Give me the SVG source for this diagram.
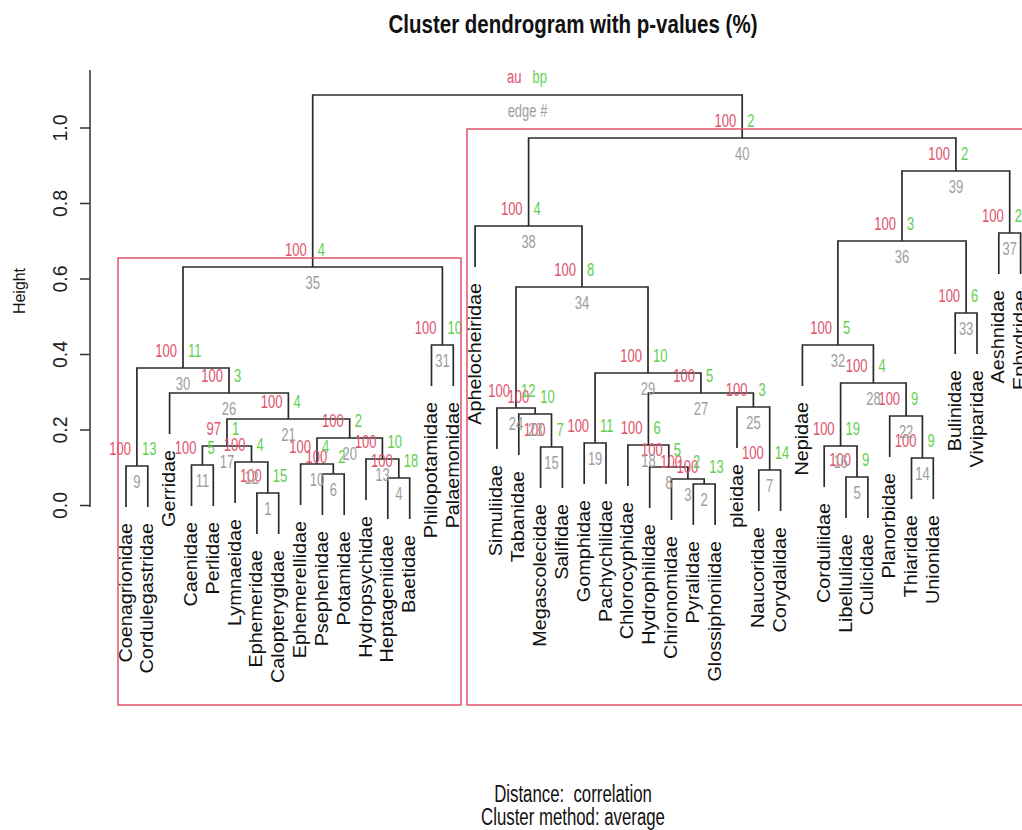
<svg xmlns="http://www.w3.org/2000/svg" width="1022" height="830" viewBox="0 0 1022 830">
<style>
text{font-family:"Liberation Sans",Arial,sans-serif}
.ln{fill:none;stroke:#2b2b2b;stroke-width:1.7}
.rc{fill:none;stroke:#DF536B;stroke-width:1.5}
.ax{fill:none;stroke:#333;stroke-width:1.5}
.au{fill:#DF536B;font-size:13px;text-anchor:end}
.bp{fill:#61D04F;font-size:13px;text-anchor:start}
.ed{fill:#9E9E9E;font-size:13px;text-anchor:middle}
.lf{fill:#111;font-size:17.5px;text-anchor:end}
.tk{fill:#222;font-size:19.5px;text-anchor:middle}
.yl{fill:#111;font-size:17px;text-anchor:middle}
.ttl{fill:#111;font-size:20.5px;font-weight:bold;text-anchor:middle}
.sub{fill:#111;font-size:16.8px;text-anchor:middle}
</style>
<rect width="1022" height="830" fill="#fff"/>
<text class="ttl" transform="translate(573,33) scale(1,1.3)">Cluster dendrogram with p-values (%)</text>
<g id="axis">
<path class="ax" d="M90 70V507M80 128H90M80 203.5H90M80 279H90M80 354.5H90M80 430H90M80 505.5H90"/>
<text class="tk" transform="translate(67,128) rotate(-90)">1.0</text>
<text class="tk" transform="translate(67,203.5) rotate(-90)">0.8</text>
<text class="tk" transform="translate(67,279) rotate(-90)">0.6</text>
<text class="tk" transform="translate(67,354.5) rotate(-90)">0.4</text>
<text class="tk" transform="translate(67,430) rotate(-90)">0.2</text>
<text class="tk" transform="translate(67,505.5) rotate(-90)">0.0</text>
<text class="yl" x="0" y="0" textLength="46" lengthAdjust="spacingAndGlyphs" transform="translate(25,291) rotate(-90)">Height</text>
</g>
<g id="connectors">
<path class="ln" d="M256.9 534V493H278.7V534"/>
<path class="ln" d="M693.3 525V484H715.1V525"/>
<path class="ln" d="M671.5 520V479H704.2V484"/>
<path class="ln" d="M387.8 519V478H409.7V519"/>
<path class="ln" d="M846 518V477H867.9V518"/>
<path class="ln" d="M322.4 515V474H344.2V515"/>
<path class="ln" d="M758.8 511V470H780.6V511"/>
<path class="ln" d="M649.7 508V467H687.9V479"/>
<path class="ln" d="M126 507V466H147.8V507"/>
<path class="ln" d="M300.6 505V464H333.3V474"/>
<path class="ln" d="M191.5 506V465H213.3V506"/>
<path class="ln" d="M235.1 503V462H267.8V493"/>
<path class="ln" d="M366 500V459H398.8V478"/>
<path class="ln" d="M911.5 499V458H933.3V499"/>
<path class="ln" d="M540.6 488V447H562.4V488"/>
<path class="ln" d="M824.2 487V446H857V477"/>
<path class="ln" d="M202.4 465V446H251.5V462"/>
<path class="ln" d="M627.9 486V445H668.8V467"/>
<path class="ln" d="M584.2 484V443H606V484"/>
<path class="ln" d="M317 464V438H382.4V459"/>
<path class="ln" d="M227 446V419H349.7V438"/>
<path class="ln" d="M889.7 457V416H922.4V458"/>
<path class="ln" d="M518.8 455V414H551.5V447"/>
<path class="ln" d="M496.9 449V408H535.2V414"/>
<path class="ln" d="M737 448V407H769.7V470"/>
<path class="ln" d="M169.6 434V393H288.4V419"/>
<path class="ln" d="M648.4 445V393H753.4V407"/>
<path class="ln" d="M840.6 446V383H906.1V416"/>
<path class="ln" d="M595.1 443V373H700.9V393"/>
<path class="ln" d="M136.9 466V368H229V393"/>
<path class="ln" d="M431.5 386V345H453.3V386"/>
<path class="ln" d="M802.4 386V345H873.4V383"/>
<path class="ln" d="M955.2 354V313H977V354"/>
<path class="ln" d="M516 408V287H648V373"/>
<path class="ln" d="M183 368V267H442.4V345"/>
<path class="ln" d="M837.9 345V241H966.1V313"/>
<path class="ln" d="M998.8 274V233H1020.6V274"/>
<path class="ln" d="M475.1 267V226H582V287"/>
<path class="ln" d="M902 241V171H1009.7V233"/>
<path class="ln" d="M528.6 226V138H955.9V171"/>
<path class="ln" d="M312.7 267V95H742.2V138"/>
</g>
<g id="legend">
<text class="au" transform="translate(521.5,83) scale(1,1.38)">au</text>
<text class="bp" transform="translate(532.5,83) scale(1,1.38)">bp</text>
<text class="ed" transform="translate(527.5,116.5) scale(1,1.38)">edge #</text>
</g>
<g id="leaves">
<text class="lf" transform="translate(131.5,523) rotate(-90) scale(1.13,1)">Coenagrionidae</text>
<text class="lf" transform="translate(153.3,523) rotate(-90) scale(1.13,1)">Cordulegastridae</text>
<text class="lf" transform="translate(175.1,450) rotate(-90) scale(1.13,1)">Gerridae</text>
<text class="lf" transform="translate(197,522) rotate(-90) scale(1.13,1)">Caenidae</text>
<text class="lf" transform="translate(218.8,522) rotate(-90) scale(1.13,1)">Perlidae</text>
<text class="lf" transform="translate(240.6,519) rotate(-90) scale(1.13,1)">Lymnaeidae</text>
<text class="lf" transform="translate(262.4,550) rotate(-90) scale(1.13,1)">Ephemeridae</text>
<text class="lf" transform="translate(284.2,550) rotate(-90) scale(1.13,1)">Calopterygidae</text>
<text class="lf" transform="translate(306.1,521) rotate(-90) scale(1.13,1)">Ephemerellidae</text>
<text class="lf" transform="translate(327.9,531) rotate(-90) scale(1.13,1)">Psephenidae</text>
<text class="lf" transform="translate(349.7,531) rotate(-90) scale(1.13,1)">Potamidae</text>
<text class="lf" transform="translate(371.5,516) rotate(-90) scale(1.13,1)">Hydropsychidae</text>
<text class="lf" transform="translate(393.3,535) rotate(-90) scale(1.13,1)">Heptageniidae</text>
<text class="lf" transform="translate(415.2,535) rotate(-90) scale(1.13,1)">Baetidae</text>
<text class="lf" transform="translate(437,402) rotate(-90) scale(1.13,1)">Philopotamidae</text>
<text class="lf" transform="translate(458.8,402) rotate(-90) scale(1.13,1)">Palaemonidae</text>
<text class="lf" transform="translate(480.6,283) rotate(-90) scale(1.13,1)">Aphelocheiridae</text>
<text class="lf" transform="translate(502.4,465) rotate(-90) scale(1.13,1)">Simuliidae</text>
<text class="lf" transform="translate(524.3,471) rotate(-90) scale(1.13,1)">Tabanidae</text>
<text class="lf" transform="translate(546.1,504) rotate(-90) scale(1.13,1)">Megascolecidae</text>
<text class="lf" transform="translate(567.9,504) rotate(-90) scale(1.13,1)">Salifidae</text>
<text class="lf" transform="translate(589.7,500) rotate(-90) scale(1.13,1)">Gomphidae</text>
<text class="lf" transform="translate(611.5,500) rotate(-90) scale(1.13,1)">Pachychilidae</text>
<text class="lf" transform="translate(633.4,502) rotate(-90) scale(1.13,1)">Chlorocyphidae</text>
<text class="lf" transform="translate(655.2,524) rotate(-90) scale(1.13,1)">Hydrophilidae</text>
<text class="lf" transform="translate(677,536) rotate(-90) scale(1.13,1)">Chironomidae</text>
<text class="lf" transform="translate(698.8,541) rotate(-90) scale(1.13,1)">Pyralidae</text>
<text class="lf" transform="translate(720.6,541) rotate(-90) scale(1.13,1)">Glossiphoniidae</text>
<text class="lf" transform="translate(742.5,464) rotate(-90) scale(1.13,1)">pleidae</text>
<text class="lf" transform="translate(764.3,527) rotate(-90) scale(1.13,1)">Naucoridae</text>
<text class="lf" transform="translate(786.1,527) rotate(-90) scale(1.13,1)">Corydalidae</text>
<text class="lf" transform="translate(807.9,402) rotate(-90) scale(1.13,1)">Nepidae</text>
<text class="lf" transform="translate(829.7,503) rotate(-90) scale(1.13,1)">Corduliidae</text>
<text class="lf" transform="translate(851.5,534) rotate(-90) scale(1.13,1)">Libellulidae</text>
<text class="lf" transform="translate(873.4,534) rotate(-90) scale(1.13,1)">Culicidae</text>
<text class="lf" transform="translate(895.2,473) rotate(-90) scale(1.13,1)">Planorbidae</text>
<text class="lf" transform="translate(917,515) rotate(-90) scale(1.13,1)">Thiaridae</text>
<text class="lf" transform="translate(938.8,515) rotate(-90) scale(1.13,1)">Unionidae</text>
<text class="lf" transform="translate(960.7,370) rotate(-90) scale(1.13,1)">Bulinidae</text>
<text class="lf" transform="translate(982.5,370) rotate(-90) scale(1.13,1)">Viviparidae</text>
<text class="lf" transform="translate(1004.3,290) rotate(-90) scale(1.13,1)">Aeshnidae</text>
<text class="lf" transform="translate(1026.1,290) rotate(-90) scale(1.13,1)">Ephydridae</text>
</g>
<g id="n1"><text class="au" transform="translate(261.8,482) scale(1,1.38)">100</text><text class="bp" transform="translate(272.8,482) scale(1,1.38)">15</text><text class="ed" transform="translate(267.8,514.5) scale(1,1.38)">1</text></g>
<g id="n2"><text class="au" transform="translate(698.2,473) scale(1,1.38)">100</text><text class="bp" transform="translate(709.2,473) scale(1,1.38)">13</text><text class="ed" transform="translate(704.2,505.5) scale(1,1.38)">2</text></g>
<g id="n3"><text class="au" transform="translate(681.9,468) scale(1,1.38)">100</text><text class="bp" transform="translate(692.9,468) scale(1,1.38)">2</text><text class="ed" transform="translate(687.9,500.5) scale(1,1.38)">3</text></g>
<g id="n4"><text class="au" transform="translate(392.8,467) scale(1,1.38)">100</text><text class="bp" transform="translate(403.8,467) scale(1,1.38)">18</text><text class="ed" transform="translate(398.8,499.5) scale(1,1.38)">4</text></g>
<g id="n5"><text class="au" transform="translate(851,466) scale(1,1.38)">100</text><text class="bp" transform="translate(862,466) scale(1,1.38)">9</text><text class="ed" transform="translate(857,498.5) scale(1,1.38)">5</text></g>
<g id="n6"><text class="au" transform="translate(327.3,463) scale(1,1.38)">100</text><text class="bp" transform="translate(338.3,463) scale(1,1.38)">2</text><text class="ed" transform="translate(333.3,495.5) scale(1,1.38)">6</text></g>
<g id="n7"><text class="au" transform="translate(763.7,459) scale(1,1.38)">100</text><text class="bp" transform="translate(774.7,459) scale(1,1.38)">14</text><text class="ed" transform="translate(769.7,491.5) scale(1,1.38)">7</text></g>
<g id="n8"><text class="au" transform="translate(662.8,456) scale(1,1.38)">100</text><text class="bp" transform="translate(673.8,456) scale(1,1.38)">5</text><text class="ed" transform="translate(668.8,488.5) scale(1,1.38)">8</text></g>
<g id="n9"><text class="au" transform="translate(130.9,455) scale(1,1.38)">100</text><text class="bp" transform="translate(141.9,455) scale(1,1.38)">13</text><text class="ed" transform="translate(136.9,487.5) scale(1,1.38)">9</text></g>
<g id="n10"><text class="au" transform="translate(311,453) scale(1,1.38)">100</text><text class="bp" transform="translate(322,453) scale(1,1.38)">4</text><text class="ed" transform="translate(317,485.5) scale(1,1.38)">10</text></g>
<g id="n11"><text class="au" transform="translate(196.4,454) scale(1,1.38)">100</text><text class="bp" transform="translate(207.4,454) scale(1,1.38)">5</text><text class="ed" transform="translate(202.4,486.5) scale(1,1.38)">11</text></g>
<g id="n12"><text class="au" transform="translate(245.5,451) scale(1,1.38)">100</text><text class="bp" transform="translate(256.5,451) scale(1,1.38)">4</text><text class="ed" transform="translate(251.5,483.5) scale(1,1.38)">12</text></g>
<g id="n13"><text class="au" transform="translate(376.4,448) scale(1,1.38)">100</text><text class="bp" transform="translate(387.4,448) scale(1,1.38)">10</text><text class="ed" transform="translate(382.4,480.5) scale(1,1.38)">13</text></g>
<g id="n14"><text class="au" transform="translate(916.4,447) scale(1,1.38)">100</text><text class="bp" transform="translate(927.4,447) scale(1,1.38)">9</text><text class="ed" transform="translate(922.4,479.5) scale(1,1.38)">14</text></g>
<g id="n15"><text class="au" transform="translate(545.5,436) scale(1,1.38)">100</text><text class="bp" transform="translate(556.5,436) scale(1,1.38)">7</text><text class="ed" transform="translate(551.5,468.5) scale(1,1.38)">15</text></g>
<g id="n16"><text class="au" transform="translate(834.6,435) scale(1,1.38)">100</text><text class="bp" transform="translate(845.6,435) scale(1,1.38)">19</text><text class="ed" transform="translate(840.6,467.5) scale(1,1.38)">16</text></g>
<g id="n17"><text class="au" transform="translate(221,435) scale(1,1.38)">97</text><text class="bp" transform="translate(232,435) scale(1,1.38)">1</text><text class="ed" transform="translate(227,467.5) scale(1,1.38)">17</text></g>
<g id="n18"><text class="au" transform="translate(642.4,434) scale(1,1.38)">100</text><text class="bp" transform="translate(653.4,434) scale(1,1.38)">6</text><text class="ed" transform="translate(648.4,466.5) scale(1,1.38)">18</text></g>
<g id="n19"><text class="au" transform="translate(589.1,432) scale(1,1.38)">100</text><text class="bp" transform="translate(600.1,432) scale(1,1.38)">11</text><text class="ed" transform="translate(595.1,464.5) scale(1,1.38)">19</text></g>
<g id="n20"><text class="au" transform="translate(343.7,427) scale(1,1.38)">100</text><text class="bp" transform="translate(354.7,427) scale(1,1.38)">2</text><text class="ed" transform="translate(349.7,459.5) scale(1,1.38)">20</text></g>
<g id="n21"><text class="au" transform="translate(282.4,408) scale(1,1.38)">100</text><text class="bp" transform="translate(293.4,408) scale(1,1.38)">4</text><text class="ed" transform="translate(288.4,440.5) scale(1,1.38)">21</text></g>
<g id="n22"><text class="au" transform="translate(900.1,405) scale(1,1.38)">100</text><text class="bp" transform="translate(911.1,405) scale(1,1.38)">9</text><text class="ed" transform="translate(906.1,437.5) scale(1,1.38)">22</text></g>
<g id="n23"><text class="au" transform="translate(529.2,403) scale(1,1.38)">100</text><text class="bp" transform="translate(540.2,403) scale(1,1.38)">10</text><text class="ed" transform="translate(535.2,435.5) scale(1,1.38)">23</text></g>
<g id="n24"><text class="au" transform="translate(510,397) scale(1,1.38)">100</text><text class="bp" transform="translate(521,397) scale(1,1.38)">12</text><text class="ed" transform="translate(516,429.5) scale(1,1.38)">24</text></g>
<g id="n25"><text class="au" transform="translate(747.4,396) scale(1,1.38)">100</text><text class="bp" transform="translate(758.4,396) scale(1,1.38)">3</text><text class="ed" transform="translate(753.4,428.5) scale(1,1.38)">25</text></g>
<g id="n26"><text class="au" transform="translate(223,382) scale(1,1.38)">100</text><text class="bp" transform="translate(234,382) scale(1,1.38)">3</text><text class="ed" transform="translate(229,414.5) scale(1,1.38)">26</text></g>
<g id="n27"><text class="au" transform="translate(694.9,382) scale(1,1.38)">100</text><text class="bp" transform="translate(705.9,382) scale(1,1.38)">5</text><text class="ed" transform="translate(700.9,414.5) scale(1,1.38)">27</text></g>
<g id="n28"><text class="au" transform="translate(867.4,372) scale(1,1.38)">100</text><text class="bp" transform="translate(878.4,372) scale(1,1.38)">4</text><text class="ed" transform="translate(873.4,404.5) scale(1,1.38)">28</text></g>
<g id="n29"><text class="au" transform="translate(642,362) scale(1,1.38)">100</text><text class="bp" transform="translate(653,362) scale(1,1.38)">10</text><text class="ed" transform="translate(648,394.5) scale(1,1.38)">29</text></g>
<g id="n30"><text class="au" transform="translate(177,357) scale(1,1.38)">100</text><text class="bp" transform="translate(188,357) scale(1,1.38)">11</text><text class="ed" transform="translate(183,389.5) scale(1,1.38)">30</text></g>
<g id="n31"><text class="au" transform="translate(436.4,334) scale(1,1.38)">100</text><text class="bp" transform="translate(447.4,334) scale(1,1.38)">10</text><text class="ed" transform="translate(442.4,366.5) scale(1,1.38)">31</text></g>
<g id="n32"><text class="au" transform="translate(831.9,334) scale(1,1.38)">100</text><text class="bp" transform="translate(842.9,334) scale(1,1.38)">5</text><text class="ed" transform="translate(837.9,366.5) scale(1,1.38)">32</text></g>
<g id="n33"><text class="au" transform="translate(960.1,302) scale(1,1.38)">100</text><text class="bp" transform="translate(971.1,302) scale(1,1.38)">6</text><text class="ed" transform="translate(966.1,334.5) scale(1,1.38)">33</text></g>
<g id="n34"><text class="au" transform="translate(576,276) scale(1,1.38)">100</text><text class="bp" transform="translate(587,276) scale(1,1.38)">8</text><text class="ed" transform="translate(582,308.5) scale(1,1.38)">34</text></g>
<g id="n35"><text class="au" transform="translate(306.7,256) scale(1,1.38)">100</text><text class="bp" transform="translate(317.7,256) scale(1,1.38)">4</text><text class="ed" transform="translate(312.7,288.5) scale(1,1.38)">35</text></g>
<g id="n36"><text class="au" transform="translate(896,230) scale(1,1.38)">100</text><text class="bp" transform="translate(907,230) scale(1,1.38)">3</text><text class="ed" transform="translate(902,262.5) scale(1,1.38)">36</text></g>
<g id="n37"><text class="au" transform="translate(1003.7,222) scale(1,1.38)">100</text><text class="bp" transform="translate(1014.7,222) scale(1,1.38)">2</text><text class="ed" transform="translate(1009.7,254.5) scale(1,1.38)">37</text></g>
<g id="n38"><text class="au" transform="translate(522.6,215) scale(1,1.38)">100</text><text class="bp" transform="translate(533.6,215) scale(1,1.38)">4</text><text class="ed" transform="translate(528.6,247.5) scale(1,1.38)">38</text></g>
<g id="n39"><text class="au" transform="translate(949.9,160) scale(1,1.38)">100</text><text class="bp" transform="translate(960.9,160) scale(1,1.38)">2</text><text class="ed" transform="translate(955.9,192.5) scale(1,1.38)">39</text></g>
<g id="n40"><text class="au" transform="translate(736.2,127) scale(1,1.38)">100</text><text class="bp" transform="translate(747.2,127) scale(1,1.38)">2</text><text class="ed" transform="translate(742.2,159.5) scale(1,1.38)">40</text></g>
<g id="clusters">
<rect class="rc" x="118" y="258" width="343" height="447"/>
<rect class="rc" x="467" y="129" width="600" height="576"/>
</g>
<g id="footer">
<text class="sub" xml:space="preserve" transform="translate(573,802) scale(1,1.4)">Distance:  correlation</text>
<text class="sub" transform="translate(573,825) scale(1,1.4)">Cluster method: average</text>
</g>
</svg>
